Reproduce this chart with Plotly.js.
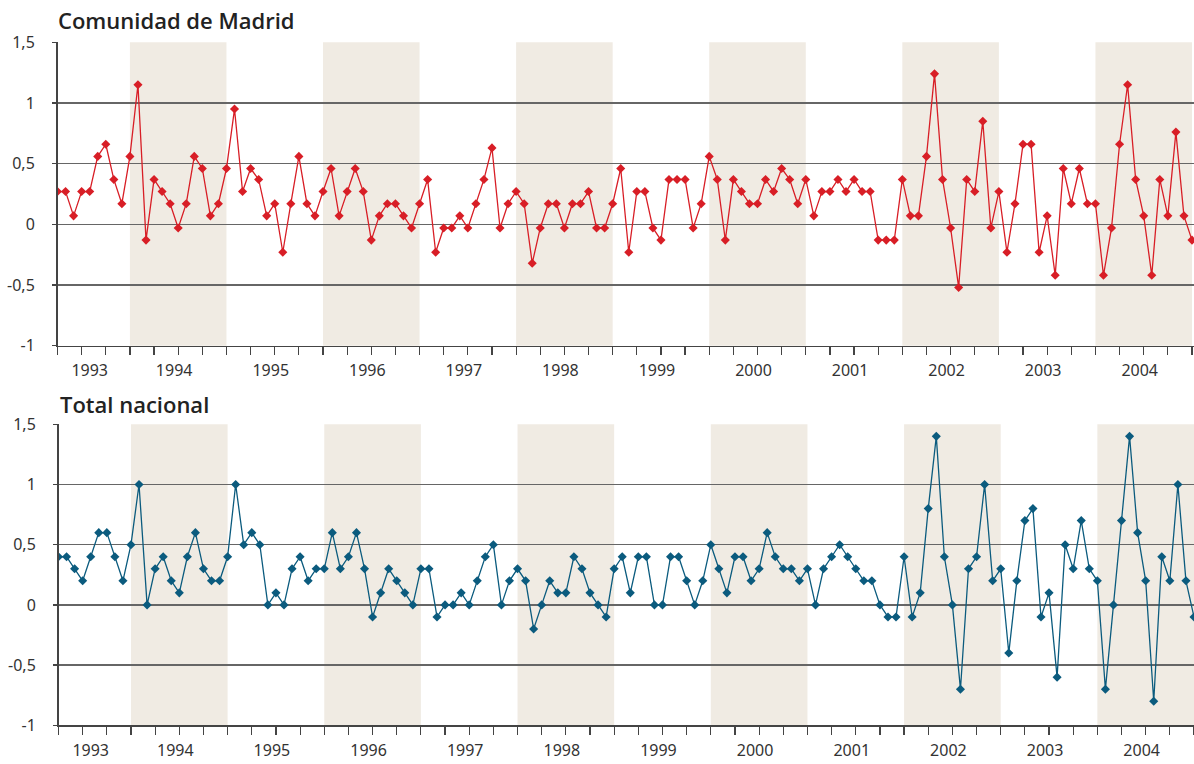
<!DOCTYPE html>
<html><head><meta charset="utf-8">
<script src="https://cdn.plot.ly/plotly-3.0.1.min.js"></script>
<style>html,body{margin:0;padding:0;background:#fff;} #chart{width:1194px;height:764px;}</style>
</head><body><div id="chart"></div>
<script>
// ---- data ----
const startYear = 1993;
const startMonth = 4; // first observation: April 1993
const madrid = [
  0.27, 0.27, 0.07, 0.27, 0.27, 0.56, 0.66, 0.37, 0.17,
  0.56, 1.15, -0.13, 0.37, 0.27, 0.17, -0.03, 0.17, 0.56, 0.46, 0.07, 0.17,
  0.46, 0.95, 0.27, 0.46, 0.37, 0.07, 0.17, -0.23, 0.17, 0.56, 0.17, 0.07,
  0.27, 0.46, 0.07, 0.27, 0.46, 0.27, -0.13, 0.07, 0.17, 0.17, 0.07, -0.03,
  0.17, 0.37, -0.23, -0.03, -0.03, 0.07, -0.03, 0.17, 0.37, 0.63, -0.03, 0.17,
  0.27, 0.17, -0.32, -0.03, 0.17, 0.17, -0.03, 0.17, 0.17, 0.27, -0.03, -0.03,
  0.17, 0.46, -0.23, 0.27, 0.27, -0.03, -0.13, 0.37, 0.37, 0.37, -0.03, 0.17,
  0.56, 0.37, -0.13, 0.37, 0.27, 0.17, 0.17, 0.37, 0.27, 0.46, 0.37, 0.17,
  0.37, 0.07, 0.27, 0.27, 0.37, 0.27, 0.37, 0.27, 0.27, -0.13, -0.13, -0.13,
  0.37, 0.07, 0.07, 0.56, 1.24, 0.37, -0.03, -0.52, 0.37, 0.27, 0.85, -0.03,
  0.27, -0.23, 0.17, 0.66, 0.66, -0.23, 0.07, -0.42, 0.46, 0.17, 0.46, 0.17,
  0.17, -0.42, -0.03, 0.66, 1.15, 0.37, 0.07, -0.42, 0.37, 0.07, 0.76, 0.07,
  -0.13
];
const nacional = [
  0.4, 0.4, 0.3, 0.2, 0.4, 0.6, 0.6, 0.4, 0.2,
  0.5, 1.0, 0, 0.3, 0.4, 0.2, 0.1, 0.4, 0.6, 0.3, 0.2, 0.2,
  0.4, 1.0, 0.5, 0.6, 0.5, 0, 0.1, 0, 0.3, 0.4, 0.2, 0.3,
  0.3, 0.6, 0.3, 0.4, 0.6, 0.3, -0.1, 0.1, 0.3, 0.2, 0.1, 0,
  0.3, 0.3, -0.1, 0, 0, 0.1, 0, 0.2, 0.4, 0.5, 0, 0.2,
  0.3, 0.2, -0.2, 0, 0.2, 0.1, 0.1, 0.4, 0.3, 0.1, 0, -0.1,
  0.3, 0.4, 0.1, 0.4, 0.4, 0, 0, 0.4, 0.4, 0.2, 0, 0.2,
  0.5, 0.3, 0.1, 0.4, 0.4, 0.2, 0.3, 0.6, 0.4, 0.3, 0.3, 0.2,
  0.3, 0, 0.3, 0.4, 0.5, 0.4, 0.3, 0.2, 0.2, 0, -0.1, -0.1,
  0.4, -0.1, 0.1, 0.8, 1.4, 0.4, 0, -0.7, 0.3, 0.4, 1.0, 0.2,
  0.3, -0.4, 0.2, 0.7, 0.8, -0.1, 0.1, -0.6, 0.5, 0.3, 0.7, 0.3,
  0.2, -0.7, 0, 0.7, 1.4, 0.6, 0.2, -0.8, 0.4, 0.2, 1.0, 0.2,
  -0.1
];
const years = ['1993','1994','1995','1996','1997','1998','1999','2000','2001','2002','2003','2004'];
const shadedYears = [1994, 1996, 1998, 2000, 2002, 2004];
const yTickVals = [-1, -0.5, 0, 0.5, 1, 1.5];
const yTickText = ['-1', '-0,5', '0', '0,5', '1', '1,5'];
const panelTitles = ['Comunidad de Madrid', 'Total nacional'];

// ---- layout helpers ----
const W = 1194, H = 764, ML = 57;
const PW = W - ML;
const px = v => (v - ML) / PW;
const py = v => 1 - v / H;

const x = madrid.map((_, i) => startYear + (startMonth - 1 + i) / 12);
// year labels centred on that year's monthly points
const yearPos = years.map(y => {
  const yr = +y;
  const pts = x.filter(v => v >= yr - 1e-9 && v < yr + 1 - 1e-9);
  return pts.reduce((a, b) => a + b, 0) / pts.length;
});

const RED = '#d81e26', BLUE = '#0b5b7e', BAND = '#f0ebe3';

function xAxis(domainLeft, rangeEnd) {
  return {
    domain: [domainLeft, 1],
    range: [x[0], rangeEnd],
    showgrid: false, zeroline: false,
    showline: true, linecolor: '#444', linewidth: 1.5,
    tickmode: 'array', tickvals: yearPos, ticktext: years,
    ticks: '',
    ticklabelstandoff: 10,
    tickfont: { size: 16, color: '#333' },
    minor: { tick0: 1993, dtick: 0.25, ticks: 'outside', ticklen: 8, tickcolor: '#444', tickwidth: 1.2, showgrid: false },
    fixedrange: true
  };
}
function yAxis(top, bottom, anchor) {
  return {
    domain: [py(bottom), py(top)],
    range: [-1, 1.5],
    anchor: anchor,
    tickmode: 'array', tickvals: yTickVals, ticktext: yTickText,
    showgrid: true, gridcolor: '#666', gridwidth: 1.2,
    zeroline: false,
    showline: true, linecolor: '#444', linewidth: 1.5,
    ticks: 'outside', ticklen: 4, tickcolor: '#444', tickwidth: 1.2,
    ticklabelstandoff: 14,
    tickfont: { size: 16, color: '#333' },
    fixedrange: true
  };
}

const traces = [
  { x: x, y: madrid, xaxis: 'x', yaxis: 'y', type: 'scatter', mode: 'lines+markers',
    line: { color: RED, width: 1.3 }, marker: { symbol: 'diamond', size: 7, color: RED }, hoverinfo: 'skip' },
  { x: x, y: nacional, xaxis: 'x2', yaxis: 'y2', type: 'scatter', mode: 'lines+markers',
    line: { color: BLUE, width: 1.3 }, marker: { symbol: 'diamond', size: 7, color: BLUE }, hoverinfo: 'skip' }
];

const shapes = [];
shadedYears.forEach(yr => {
  shapes.push({ type: 'rect', xref: 'x', yref: 'y domain', x0: yr, x1: yr + 1, y0: 0, y1: 1,
    fillcolor: BAND, line: { width: 0 }, layer: 'below' });
  shapes.push({ type: 'rect', xref: 'x2', yref: 'y2 domain', x0: yr, x1: yr + 1, y0: 0, y1: 1,
    fillcolor: BAND, line: { width: 0 }, layer: 'below' });
});

const titleFont = { family: 'Open Sans, Noto Sans, sans-serif', size: 22, color: '#222', weight: 600 };

const layout = {
  width: W, height: H,
  margin: { l: ML, r: 0, t: 0, b: 0 },
  paper_bgcolor: '#fff', plot_bgcolor: '#fff',
  font: { family: 'Noto Sans, Open Sans, sans-serif', color: '#333' },
  showlegend: false,
  xaxis: xAxis(px(57.5), 2005 + 0.25 / 12),
  yaxis: yAxis(42.3, 345.7, 'x'),
  xaxis2: Object.assign(xAxis(px(58.5), 2005.0), { anchor: 'y2' }),
  yaxis2: yAxis(424.3, 725.3, 'x2'),
  shapes: shapes,
  annotations: [
    { text: panelTitles[0], xref: 'paper', yref: 'paper', x: px(56), y: py(20), xanchor: 'left', yanchor: 'middle',
      showarrow: false, font: titleFont },
    { text: panelTitles[1], xref: 'paper', yref: 'paper', x: px(58), y: py(404), xanchor: 'left', yanchor: 'middle',
      showarrow: false, font: titleFont }
  ]
};

Plotly.newPlot('chart', traces, layout, { displayModeBar: false, staticPlot: true });
</script>
</body></html>
